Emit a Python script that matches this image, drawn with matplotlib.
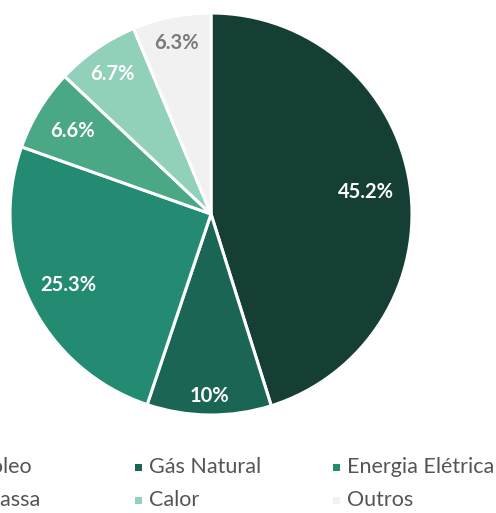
import matplotlib
matplotlib.use("Agg")
import matplotlib.pyplot as plt
from matplotlib.patches import Rectangle
import numpy as np

# dados
categorias = ["Petróleo", "Gás Natural", "Energia Elétrica", "Biomassa", "Calor", "Outros"]
valores = [45.2, 10, 25.3, 6.6, 6.7, 6.3]
cores = ["#153f35", "#1b6555", "#238b71", "#4aa885", "#91d0b9", "#f1f1f1"]
cor_rotulo = ["white", "white", "white", "white", "white", "#7a7a7a"]
# distancia de cada rotulo ao centro (fração do raio)
dist_rotulo = [0.78, 0.90, 0.79, 0.81, 0.86, 0.875]

plt.rcParams['font.family'] = ['Lato', 'DejaVu Sans']

W, H = 496, 513
cx, cy, r = 211, 214, 201
fig = plt.figure(figsize=(W / 100, H / 100), dpi=100)
ax = fig.add_axes([0, 0, 1, 1])

wedges, textos = ax.pie(valores, colors=cores, startangle=90, counterclock=False,
                        radius=1, labels=None,
                        wedgeprops=dict(edgecolor='white', linewidth=2.2))

# limites depois do pie (pie redefine os limites)
ax.set_xlim(-cx / r, (W - cx) / r)
ax.set_ylim(-(H - cy) / r, cy / r)
ax.set_aspect('equal')
ax.axis('off')

for w, v, d, c in zip(wedges, valores, dist_rotulo, cor_rotulo):
    ang = np.deg2rad((w.theta1 + w.theta2) / 2)
    ax.text(d * np.cos(ang), d * np.sin(ang) - 0.008, "{:g}%".format(v),
            ha='center', va='center', fontsize=14.5, fontweight='bold', color=c)

# legenda em grade fixa
col_x = [-63, 135, 333]
lin_y = [467, 500]
for i, (nome, cor) in enumerate(zip(categorias, cores)):
    x = col_x[i % 3]
    y = H - lin_y[i // 3]
    fig.add_artist(Rectangle((x / 100, (y - 3.5) / 100), 0.07, 0.07,
                             facecolor=cor, edgecolor='none',
                             transform=fig.dpi_scale_trans))
    fig.text((x + 14) / W, y / H, nome, ha='left', va='center',
             fontsize=15.5, color='#555555')

fig.savefig("out.png", dpi=100)
